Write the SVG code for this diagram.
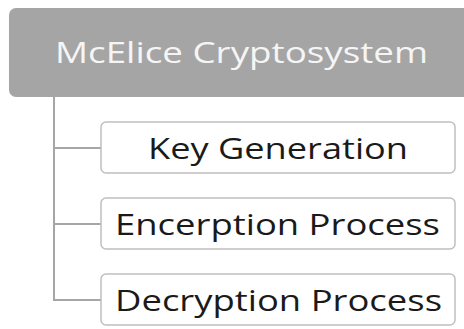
<svg xmlns="http://www.w3.org/2000/svg" width="464" height="329" viewBox="0 0 464 329">
<style>
.child rect{fill:#ffffff;stroke:#bfbfbf;stroke-width:1.5}
.child text{font-family:"Open Sans","Noto Sans",sans-serif;font-size:30px;fill:#1a1a1a;text-anchor:middle}
.conn path{fill:none;stroke:#a6a6a6;stroke-width:2}
</style>
<rect width="464" height="329" fill="#ffffff"/>
<g id="root">
<rect x="9" y="8" width="470" height="89" rx="7" fill="#a5a5a5"/>
<text x="241.5" y="63" font-family="'Open Sans','Noto Sans',sans-serif" font-size="29" fill="#f5f5f5" text-anchor="middle" textLength="373" lengthAdjust="spacingAndGlyphs">McElice Cryptosystem</text>
</g>
<g class="conn" id="connectors">
<path d="M54 97 V300 H101"/>
<path d="M54 148 H101"/>
<path d="M54 224 H101"/>
</g>
<g class="child" id="key-generation">
<rect x="101" y="122" width="354" height="51" rx="5"/>
<text x="278" y="159" textLength="260" lengthAdjust="spacingAndGlyphs">Key Generation</text>
</g>
<g class="child" id="encryption-process">
<rect x="101" y="198" width="354" height="51" rx="5"/>
<text x="277.5" y="235" textLength="325" lengthAdjust="spacingAndGlyphs">Encerption Process</text>
</g>
<g class="child" id="decryption-process">
<rect x="101" y="274" width="354" height="51" rx="5"/>
<text x="278.5" y="311" textLength="327" lengthAdjust="spacingAndGlyphs">Decryption Process</text>
</g>
</svg>
